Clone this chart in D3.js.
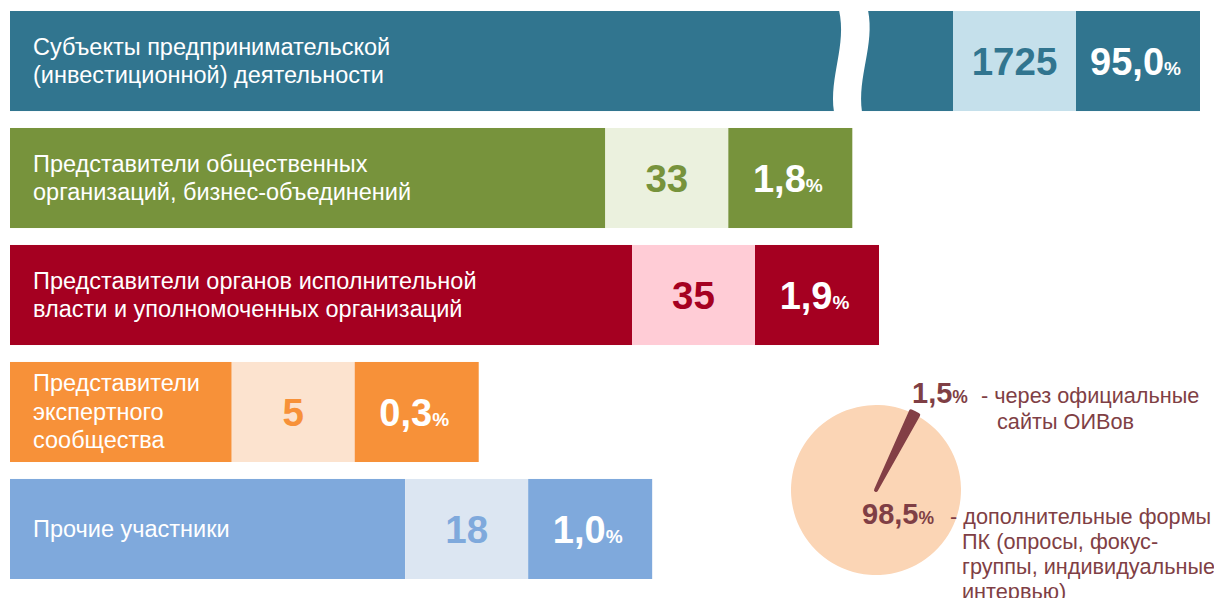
<!DOCTYPE html>
<html>
<head>
<meta charset="utf-8">
<script src="https://cdn.jsdelivr.net/npm/d3@7"></script>
<style>
  body { margin: 0; background: #fff; }
  svg { display: block; font-family: Arial, "Liberation Sans", sans-serif; }
</style>
</head>
<body>
<svg width="1214" height="598"></svg>
<script>
// participants of public consultations
var labels = [
  ["Субъекты предпринимательской", "(инвестиционной) деятельности"],
  ["Представители общественных", "организаций, бизнес-объединений"],
  ["Представители органов исполнительной", "власти и уполномоченных организаций"],
  ["Представители", "экспертного", "сообщества"],
  ["Прочие участники"]
];
var counts = [1725, 33, 35, 5, 18];
var shares = ["95,0", "1,8", "1,9", "0,3", "1,0"];
var mainColors = ["#31758f", "#77933c", "#a50021", "#f79139", "#7fa9dc"];
var lightColors = ["#c5e0eb", "#ebf1de", "#ffccd6", "#fce3cf", "#dce6f2"];

// feedback channels (pie)
var pieValues = [1.5, 98.5];
var pieNumbers = ["1,5", "98,5"];
var pieNotes = [
  ["- через официальные", "сайты ОИВов"],
  ["- дополнительные формы", "ПК (опросы, фокус-", "группы, индивидуальные", "интервью)"]
];
var pieColors = ["#833f45", "#fbd5b5"];

var svg = d3.select("svg");
var x0 = 10, boxW = 123;

// broken axis: first bar is compressed above 35
var xScale = d3.scaleLinear()
  .domain([0, 35, 1725])
  .range([155, 622, 943]);

var yScale = d3.scaleBand()
  .domain(d3.range(counts.length))
  .range([11, 579])
  .paddingInner(0.145);

var bars = svg.selectAll("g.bar")
  .data(counts)
  .enter()
  .append("g")
  .attr("class", "bar")
  .attr("transform", function (d, i) { return "translate(0," + yScale(i) + ")"; });

var h = yScale.bandwidth();

bars.append("rect")
  .attr("x", x0)
  .attr("width", function (d) { return xScale(d); })
  .attr("height", h)
  .attr("fill", function (d, i) { return mainColors[i]; });

bars.append("rect")
  .attr("x", function (d) { return x0 + xScale(d); })
  .attr("width", boxW)
  .attr("height", h)
  .attr("fill", function (d, i) { return lightColors[i]; });

bars.append("rect")
  .attr("x", function (d) { return x0 + xScale(d) + boxW; })
  .attr("width", boxW + 1)
  .attr("height", h)
  .attr("fill", function (d, i) { return mainColors[i]; });

// wavy break on the first bar
var bx = 838, by = yScale(0);
svg.append("path")
  .attr("d", "M" + (bx + 1) + "," + (by - 1)
    + " C" + (bx + 9) + "," + (by + 35) + " " + (bx - 9) + "," + (by + 65) + " " + (bx - 4) + "," + (by + h + 1)
    + " L" + (bx + 24) + "," + (by + h + 1)
    + " C" + (bx + 19) + "," + (by + 65) + " " + (bx + 37) + "," + (by + 35) + " " + (bx + 30) + "," + (by - 1)
    + " Z")
  .attr("fill", "#fff");

// category labels
bars.append("text")
  .attr("fill", "#fff")
  .style("font-size", "23.5px")
  .each(function (d, i) {
    var lines = labels[i];
    d3.select(this).selectAll("tspan")
      .data(lines)
      .enter()
      .append("tspan")
      .attr("x", 33)
      .attr("y", function (l, j) { return h / 2 + (j - (lines.length - 1) / 2) * 28.5 + 8; })
      .text(function (l) { return l; });
  });

// counts
bars.append("text")
  .attr("x", function (d) { return x0 + xScale(d) + boxW / 2; })
  .attr("y", h / 2 + 14)
  .attr("text-anchor", "middle")
  .attr("fill", function (d, i) { return mainColors[i]; })
  .style("font-size", "38.5px")
  .style("font-weight", "bold")
  .text(function (d) { return d; });

// shares
var pct = bars.append("text")
  .attr("x", function (d) { return x0 + xScale(d) + boxW + boxW / 2 - 2; })
  .attr("y", h / 2 + 14)
  .attr("text-anchor", "middle")
  .attr("fill", "#fff")
  .style("font-weight", "bold");
pct.append("tspan").style("font-size", "38px").text(function (d, i) { return shares[i]; });
pct.append("tspan").style("font-size", "19px").text("%");

// pie
var cx = 876, cy = 490, r = 85;
var pie = d3.pie().sort(null)
  .startAngle(24 * Math.PI / 180)
  .endAngle(24 * Math.PI / 180 + 2 * Math.PI);
var arcs = pie(pieValues);

var pg = svg.append("g").attr("transform", "translate(" + cx + "," + cy + ")");
pg.selectAll("path")
  .data(arcs.slice().reverse())
  .enter()
  .append("path")
  .attr("d", function (d) {
    return d3.arc().innerRadius(0).outerRadius(d.index === 0 ? r + 1 : r)(d);
  })
  .attr("fill", function (d) { return pieColors[d.index]; })
  .attr("stroke", function (d) { return d.index === 0 ? pieColors[0] : "none"; })
  .attr("stroke-width", 4)
  .attr("stroke-linejoin", "round");

var textColor = "#7f3f45";
var numPos = [[912, 403], [862, 524]];
var notePos = [[[981, 403], [997, 429]], [[950, 524], [962, 549], [962, 574], [962, 599]]];

pieNumbers.forEach(function (n, i) {
  var t = svg.append("text")
    .attr("x", numPos[i][0])
    .attr("y", numPos[i][1])
    .attr("fill", textColor)
    .style("font-weight", "bold");
  t.append("tspan").style("font-size", "29px").text(n);
  t.append("tspan").style("font-size", "17.5px").text("%");

  pieNotes[i].forEach(function (line, j) {
    svg.append("text")
      .attr("x", notePos[i][j][0])
      .attr("y", notePos[i][j][1])
      .attr("fill", textColor)
      .style("font-size", "21.7px")
      .text(line);
  });
});
</script>
</body>
</html>
